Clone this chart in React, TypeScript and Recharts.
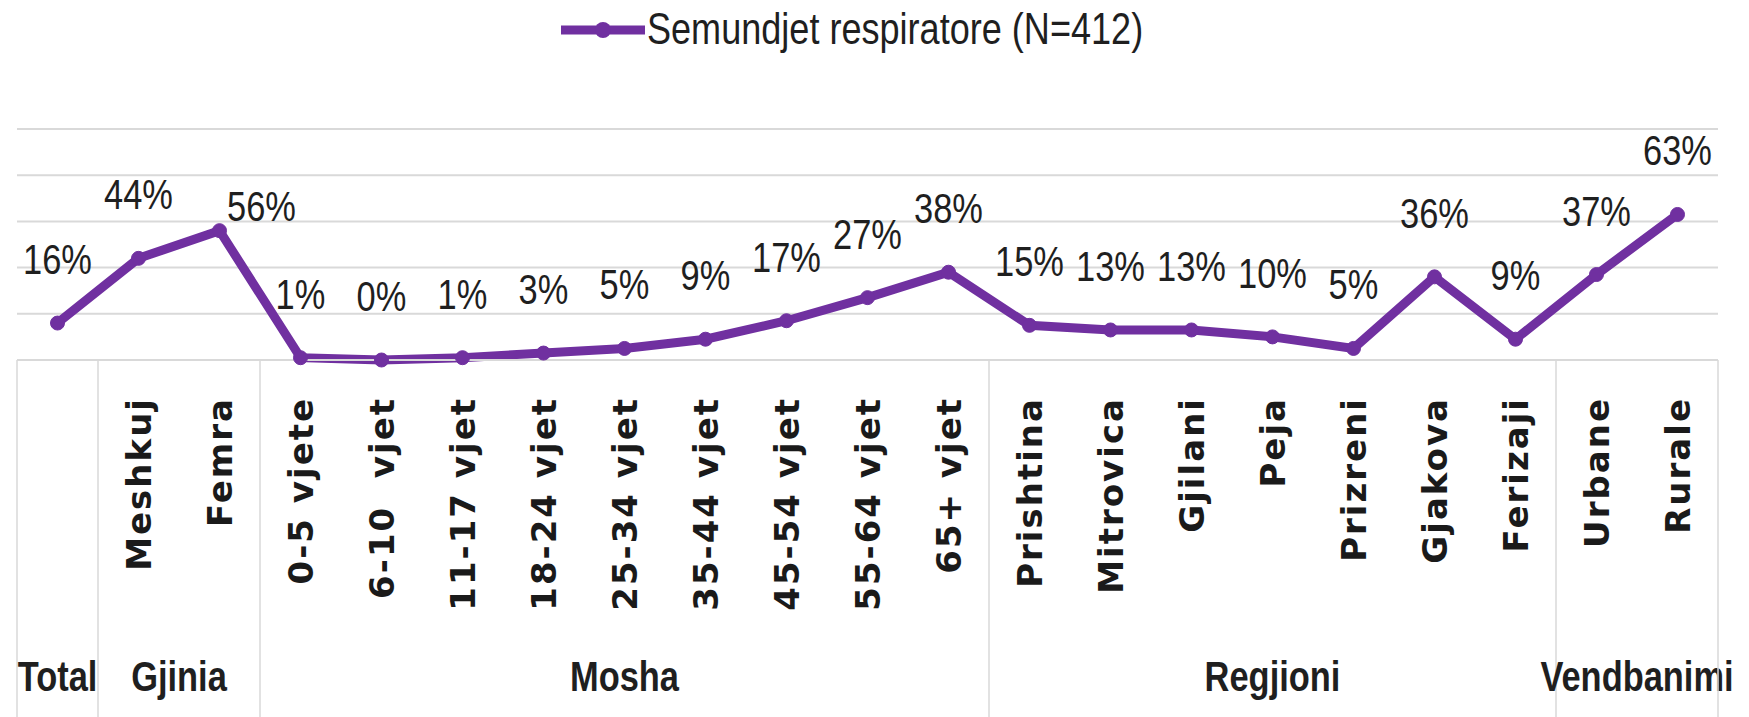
import { LineChart, Line, XAxis, YAxis, CartesianGrid, LabelList, Legend } from "recharts"

// categories and values
const categories = [
  "Total",
  "Meshkuj", "Femra",
  "0-5 vjete", "6-10  vjet", "11-17 vjet", "18-24 vjet", "25-34 vjet", "35-44 vjet", "45-54 vjet", "55-64 vjet", "65+ vjet",
  "Prishtina", "Mitrovica", "Gjilani", "Peja", "Prizreni", "Gjakova", "Ferizaji",
  "Urbane", "Rurale",
]
const values = [16, 44, 56, 1, 0, 1, 3, 5, 9, 17, 27, 38, 15, 13, 13, 10, 5, 36, 9, 37, 63]
const groupNames = ["Total", "Gjinia", "Mosha", "Regjioni", "Vendbanimi"]
const groupSizes = [1, 2, 9, 7, 2]
const yTicks = [0, 20, 40, 60, 80, 100]
const seriesName = "Semundjet respiratore (N=412)"

const data = categories.map((name, i) => ({ name, value: values[i] }))

// index of first category -> group
const groupStarts: Record<number, number> = {}
let start = 0
groupSizes.forEach((size, g) => {
  groupStarts[start] = g
  start += size
})

const W = 1749
const H = 717
const PURPLE = "#7030A0"
const GRID = "#d9d9d9"
const SANS = "'Liberation Sans', Arial, sans-serif"
const BOLD = "'DejaVu Sans', sans-serif"
const SQUEEZE = 0.82 // the original's text is narrow (Calibri-like)

function NarrowText({ x, y, size, bold, anchor = "middle", children }: any) {
  return (
    <text
      transform={`translate(${x} ${y}) scale(${SQUEEZE} 1)`}
      textAnchor={anchor}
      fontFamily={SANS}
      fontWeight={bold ? "bold" : "normal"}
      fontSize={size}
      fill="#1f1f1f"
    >
      {children}
    </text>
  )
}

function CategoryTick(props: any) {
  const { x, y, payload, index } = props
  const half = payload.offset || 40.5
  const labelY = y + 37
  const g = groupStarts[index]
  // a one-item group (Total) only shows its group label
  const showLabel = !(g !== undefined && groupSizes[g] === 1)
  return (
    <g>
      {showLabel && (
        <text
          x={x}
          y={labelY}
          transform={`rotate(-90 ${x} ${labelY})`}
          textAnchor="end"
          dominantBaseline="central"
          fontFamily={BOLD}
          fontWeight="bold"
          fontSize={34}
          letterSpacing={2}
          fill="#1a1a1a"
          style={{ whiteSpace: "pre" }}
        >
          {payload.value}
        </text>
      )}
      {g !== undefined && (
        <>
          <line x1={x - half} x2={x - half} y1={y} y2={H} stroke={GRID} strokeWidth={1.5} />
          <NarrowText x={x + (groupSizes[g] - 1) * half} y={y + 331} size={42} bold>
            {groupNames[g]}
          </NarrowText>
        </>
      )}
      {index === categories.length - 1 && (
        <line x1={x + half} x2={x + half} y1={y} y2={H} stroke={GRID} strokeWidth={1.5} />
      )}
    </g>
  )
}

function ValueLabel(props: any) {
  const { x, y, value, index } = props
  // Femra's label sits to the right of its point in the original
  const shifted = categories[index] === "Femra"
  return (
    <NarrowText x={shifted ? x + 42 : x} y={shifted ? y - 10 : y - 49} size={42}>
      {`${value}%`}
    </NarrowText>
  )
}

function LegendContent() {
  return (
    <svg width={640} height={60}>
      <line x1={0} x2={84} y1={30} y2={30} stroke={PURPLE} strokeWidth={9} />
      <circle cx={42} cy={30} r={8} fill={PURPLE} />
      <NarrowText x={86} y={44} size={44} anchor="start">
        {seriesName}
      </NarrowText>
    </svg>
  )
}

export default function App() {
  return (
    <div style={{ position: "absolute", left: 0, top: 0, background: "#fff" }}>
      <LineChart width={W} height={H} data={data} margin={{ top: 129, right: 31, left: 17, bottom: 0 }}>
        <CartesianGrid vertical={false} stroke={GRID} strokeWidth={2} />
        <XAxis
          dataKey="name"
          scale="band"
          interval={0}
          height={357}
          tickLine={false}
          tickSize={0}
          tickMargin={0}
          axisLine={{ stroke: GRID, strokeWidth: 2 }}
          tick={<CategoryTick />}
        />
        <YAxis hide domain={[0, 100]} ticks={yTicks} />
        <Legend
          layout="horizontal"
          verticalAlign="middle"
          align="center"
          content={<LegendContent />}
          wrapperStyle={{ top: 0, left: 561, width: 640, height: 60 }}
        />
        <Line
          type="linear"
          dataKey="value"
          name={seriesName}
          stroke={PURPLE}
          strokeWidth={9}
          dot={{ r: 7, fill: PURPLE, stroke: PURPLE, strokeWidth: 1 }}
          activeDot={false}
          isAnimationActive={false}
        >
          <LabelList dataKey="value" content={<ValueLabel />} />
        </Line>
      </LineChart>
    </div>
  )
}
